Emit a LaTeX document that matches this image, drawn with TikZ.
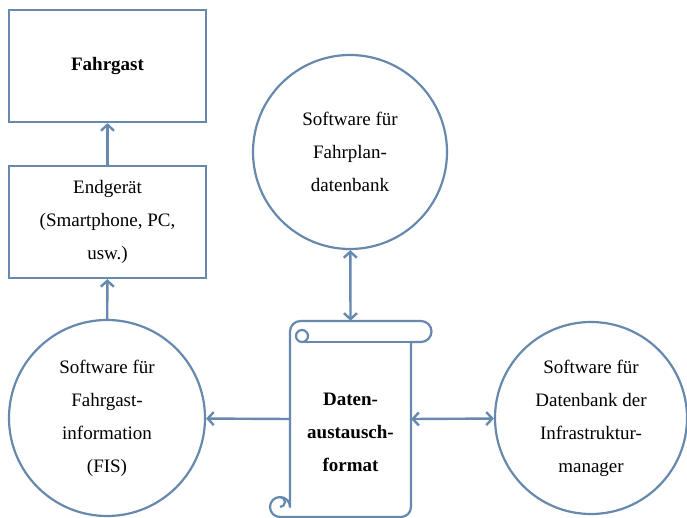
\documentclass[tikz,border=0pt]{standalone}
\usepackage{fontspec}
\setmainfont{Liberation Serif}
\usetikzlibrary{arrows.meta}
\definecolor{lineblue}{RGB}{104,137,174}
\tikzset{
  x=1pt, y=-1pt,
  every node/.style={font={\fontsize{19}{33}\selectfont}, align=center, inner sep=0pt},
  boxnode/.style={draw=lineblue, line width=2.2pt, fill=white, minimum width=197pt, minimum height=112pt},
  circnode/.style={draw=lineblue, line width=2.2pt, circle, fill=white},
  conn/.style={draw=lineblue, line width=2.4pt, -{Straight Barb[length=6pt,width=13pt]}},
  biconn/.style={draw=lineblue, line width=2.4pt, {Straight Barb[length=6pt,width=13pt]}-{Straight Barb[length=6pt,width=13pt]}},
  scrollline/.style={draw=lineblue, line width=2.2pt, line join=round},
}
\begin{document}
\begin{tikzpicture}
\useasboundingbox (0,0) rectangle (687,518);
\node[boxnode] (fahrgast) at (107.5,66) {\textbf{Fahrgast}};
\node[boxnode] (endgeraet) at (107.5,222) {Endgerät\\(Smartphone, PC,\\usw.)};
\node[circnode, minimum size=196pt] (fis) at (107,418) {Software für\\Fahrgast-\\information\\(FIS)};
\node[circnode, minimum size=194pt] (fahrplan) at (350,152) {Software für\\Fahrplan-\\datenbank};
\node[circnode, minimum size=192pt] (infra) at (591,418) {Software für\\Datenbank der\\Infrastruktur-\\manager};
% scroll outline (y axis points down: angle 270 is up)
\path[scrollline, fill=white]
  (290,507) -- (290,331.5) arc[start angle=180, end angle=270, radius=10.5]
  -- (421,321) arc[start angle=-90, end angle=90, radius=10.5]
  -- (411,342) -- (411,507) arc[start angle=0, end angle=90, radius=10]
  -- (280,517) arc[start angle=90, end angle=360, radius=10] -- cycle;
\draw[scrollline] (302,342) -- (411,342);
\draw[scrollline] (302,336) circle[radius=6];
\draw[scrollline] (280,497) arc[start angle=-90, end angle=90, radius=5];
\node (scroll) at (350.5,419) [minimum width=121pt, minimum height=196pt] {};
\node at (350.5,432) {\textbf{Daten-}\\\textbf{austausch-}\\\textbf{format}};
% connectors
\draw[conn] (endgeraet) -- (fahrgast);
\draw[conn] (fis) -- (endgeraet);
\draw[biconn] (fahrplan) -- (scroll.north);
\draw[conn] (scroll.west) -- (fis);
\draw[biconn] (scroll.east) -- (infra);
\end{tikzpicture}
\end{document}
